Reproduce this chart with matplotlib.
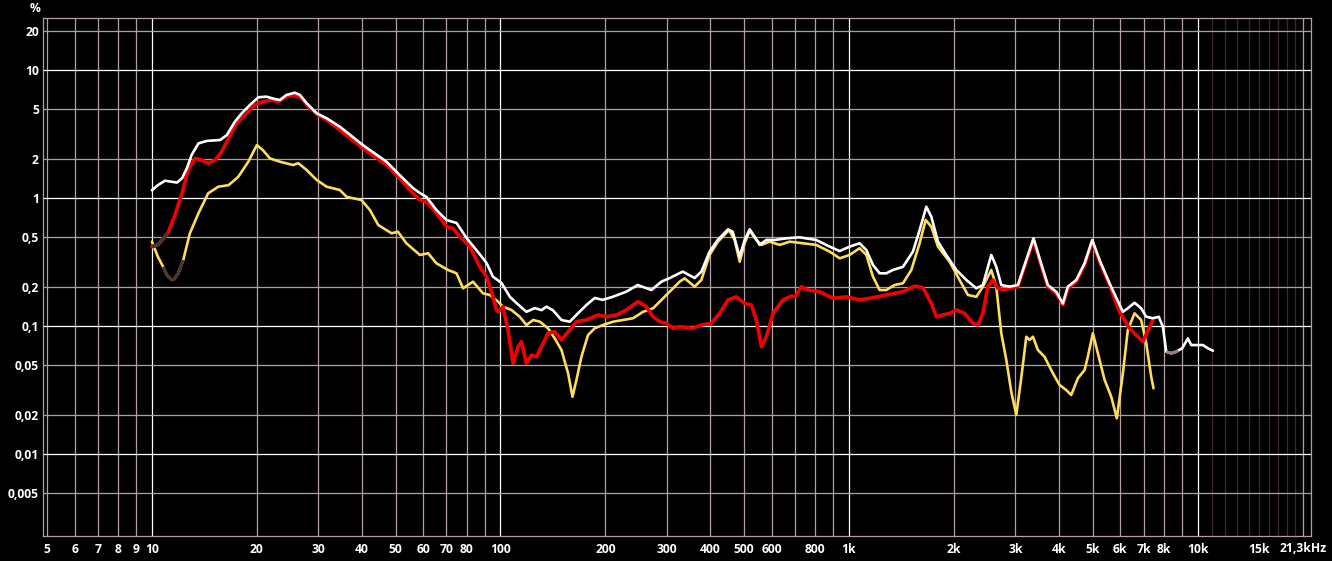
import numpy as np
import matplotlib
matplotlib.use("Agg")
import matplotlib.pyplot as plt
from matplotlib import font_manager

# ---------------- data (Hz, %) ----------------
white_f = [10, 10.4, 10.9, 11.4, 11.8, 12.2, 12.6, 13.0, 13.6, 14.35,
           15.7, 16.4, 17.3, 18.1, 19.1, 20.2, 21.3, 22.5, 23.3, 24.3,
           25.7, 26.6, 27.8, 29.7, 31.7, 34.6, 40.3, 47.1, 51.4, 56.0,
           58.7, 61.3, 65.5, 70.0, 74.8, 79.9, 85.3, 91.2, 95.1, 100.7,
           106.4, 111.2, 118.7, 125.4, 131.1, 135.5, 141.3, 149.6, 158.1, 167,
           176.5, 186.4, 196.4, 209.9, 229.7, 247.6, 271, 289.6, 305.9, 333.3,
           360.6, 377, 398, 420, 449.6, 463.6, 485.6, 501.7, 518.8, 536,
           554, 579, 612, 661, 721, 805, 880, 940, 1004, 1072,
           1121, 1171, 1224, 1279, 1336, 1428, 1525, 1594, 1666, 1722,
           1799, 1901, 2032, 2170, 2318, 2421, 2559, 2645, 2734, 2888,
           3051, 3225, 3383, 3560, 3718, 3930, 4106, 4244, 4486, 4740,
           4985, 5233, 5588, 6104, 6306, 6592, 6887, 7123, 7440, 7740,
           7948, 8128, 8395, 8681, 9034, 9376, 9585, 10014, 10350, 10700, 11060]
white_v = [1.15, 1.26, 1.365, 1.34, 1.32, 1.425, 1.71, 2.17, 2.67, 2.79,
           2.84, 3.1, 3.95, 4.59, 5.33, 6.12, 6.19, 5.94, 5.83, 6.38,
           6.65, 6.38, 5.5, 4.59, 4.2, 3.61, 2.59, 1.92, 1.51, 1.20,
           1.094, 1.02, 0.806, 0.673, 0.638, 0.487, 0.392, 0.311, 0.243, 0.217,
           0.169, 0.151, 0.129, 0.138, 0.133, 0.1415, 0.133, 0.1114, 0.108, 0.126,
           0.146, 0.1656, 0.160, 0.169, 0.1854, 0.209, 0.191, 0.222, 0.237, 0.266,
           0.237, 0.266, 0.381, 0.47, 0.569, 0.545, 0.348, 0.47, 0.569, 0.499,
           0.43, 0.47, 0.47, 0.484, 0.493, 0.47, 0.417, 0.385, 0.417, 0.443,
           0.392, 0.3, 0.258, 0.258, 0.274, 0.29, 0.381, 0.562, 0.855, 0.714,
           0.456, 0.359, 0.274, 0.229, 0.197, 0.209, 0.359, 0.29, 0.209, 0.203,
           0.209, 0.328, 0.484, 0.305, 0.209, 0.185, 0.150, 0.203, 0.229, 0.309,
           0.47, 0.328, 0.2157, 0.129, 0.1375, 0.152, 0.1375, 0.118, 0.115, 0.118,
           0.0988, 0.063, 0.0612, 0.063, 0.067, 0.080, 0.071, 0.071, 0.071, 0.067, 0.0641]

red_f = [10, 10.4, 11.0, 11.1, 11.6, 12.2, 12.7, 13.3, 13.9, 14.5,
         15.2, 15.85, 16.6, 17.5, 18.7, 19.7, 20.8, 22.0, 23.0, 24.3,
         25.7, 26.9, 28.1, 30.0, 31.7, 34.6, 40.4, 47.1, 51.4, 54.9,
         58.7, 61.3, 65.5, 70.0, 73.1, 76.4, 81.7, 87.2, 91.2, 95.2,
         97.4, 98.5, 101.7, 105.1, 108.7, 112.3, 114.8, 118.7, 122.7, 126.9,
         131.1, 136.9, 143.1, 149.6, 156.3, 165.2, 176.5, 190.5, 201.4, 215.1,
         229.7, 248, 262.2, 274, 286.4, 299.2, 312.6, 326.6, 356.7, 377,
         402.8, 425.5, 449.6, 475.3, 501.7, 524.8, 542, 560.5, 579, 605.2,
         646.5, 683.5, 700.8, 730, 762.7, 823.6, 899, 982.5, 1072, 1146,
         1279, 1428, 1543, 1629, 1722, 1780, 1859, 1943, 2032, 2145,
         2266, 2343, 2421, 2500, 2586, 2673, 2793,
         2888, 3051, 3225, 3383, 3560, 3718, 3930, 4106, 4244, 4486,
         4740, 4985, 5233, 5588, 5970, 6377, 6966, 7440]
red_v = [0.417, 0.43, 0.514, 0.53, 0.714, 1.088, 1.654, 2.04, 1.98, 1.87,
         1.98, 2.3, 2.93, 3.83, 4.59, 5.33, 5.65, 5.83, 5.65, 6.19,
         6.38, 6.01, 5.17, 4.45, 4.07, 3.4, 2.44, 1.81, 1.425, 1.155,
         0.965, 0.936, 0.76, 0.597, 0.58, 0.499, 0.417, 0.29, 0.243, 0.169,
         0.1334, 0.129, 0.1415, 0.093, 0.0511, 0.0689, 0.0754, 0.0511, 0.0593, 0.0575,
         0.0689, 0.0877, 0.0903, 0.0778, 0.0903, 0.108, 0.1114, 0.122, 0.118, 0.122,
         0.1334, 0.155, 0.1415, 0.118, 0.108, 0.105, 0.096, 0.0988, 0.096, 0.1018,
         0.105, 0.1256, 0.16, 0.169, 0.150, 0.146, 0.1114, 0.0689, 0.0825, 0.1256,
         0.16, 0.1716, 0.169, 0.203, 0.191, 0.1854, 0.1646, 0.169, 0.16, 0.1646,
         0.1747, 0.1854, 0.2054, 0.1993, 0.150, 0.118, 0.122, 0.1256, 0.1334, 0.1256,
         0.105, 0.1018, 0.1256, 0.203, 0.229, 0.197, 0.191,
         0.197, 0.203, 0.318, 0.47, 0.296, 0.203, 0.18, 0.146, 0.197, 0.222,
         0.30, 0.456, 0.318, 0.209, 0.129, 0.096, 0.0754, 0.1114]

yellow_f = [10, 10.4, 10.77, 11.04, 11.4, 11.6, 11.9, 12.3, 12.85, 13.6,
            14.5, 15.5, 16.6, 17.7, 18.9, 20.0, 20.8, 21.8, 23.3, 25.4,
            26.3, 27.8, 29.7, 31.7, 34.6, 36.2, 39.9, 42.2, 44.6, 48.7,
            50.8, 53.7, 58.7, 62.0, 65.5, 70.7, 74.8, 78.1, 83.4, 89.1,
            93.2, 98.4, 101.7, 107.5, 113.6, 118.7, 124.1, 129.7, 136.9, 143.1,
            149.6, 156.3, 160.9, 165.2, 170.7, 178.3, 186.4, 196.8, 210.4, 224.7,
            240, 256.4, 274, 292.6, 309.1, 326.6, 337.7, 360.6, 377, 398,
            420.7, 452.5, 469.8, 485.6, 501.7, 518.8, 542, 560.5, 592, 632.4,
            676, 737.7, 805, 880, 940, 1004, 1072, 1121, 1171, 1224,
            1279, 1351, 1428, 1509, 1594, 1659, 1722, 1799, 1943, 2075,
            2193, 2318, 2421, 2559, 2645, 2734, 2826, 2921, 3019, 3119,
            3225, 3296, 3370, 3481, 3638, 3845, 4018, 4198, 4340, 4533,
            4740, 4842, 5006, 5175, 5410, 5653, 5865, 6104, 6306, 6592,
            6887, 7123, 7360, 7474]
yellow_v = [0.456, 0.348, 0.29, 0.25, 0.229, 0.233, 0.258, 0.328, 0.53, 0.76,
            1.088, 1.225, 1.26, 1.467, 1.92, 2.59, 2.37, 2.04, 1.92, 1.81,
            1.87, 1.654, 1.383, 1.225, 1.155, 1.02, 0.965, 0.806, 0.615, 0.53,
            0.545, 0.443, 0.359, 0.37, 0.309, 0.274, 0.258, 0.197, 0.222, 0.18,
            0.1747, 0.155, 0.1415, 0.1334, 0.118, 0.1018, 0.1114, 0.108, 0.096, 0.080,
            0.065, 0.0427, 0.028, 0.0379, 0.0575, 0.085, 0.096, 0.1018, 0.108, 0.1114,
            0.115, 0.129, 0.1375, 0.1646, 0.191, 0.222, 0.2356, 0.203, 0.229, 0.359,
            0.456, 0.562, 0.47, 0.318, 0.443, 0.555, 0.47, 0.43, 0.456, 0.43,
            0.456, 0.443, 0.43, 0.381, 0.338, 0.359, 0.405, 0.359, 0.243, 0.191,
            0.191, 0.209, 0.2157, 0.274, 0.443, 0.673, 0.597, 0.417, 0.318, 0.229,
            0.1747, 0.169, 0.203, 0.274, 0.203, 0.0877, 0.0543, 0.0305, 0.0202, 0.0392,
            0.0825, 0.0778, 0.0825, 0.065, 0.0575, 0.0427, 0.0346, 0.0316, 0.0289, 0.039,
            0.0453, 0.0575, 0.0877, 0.0612, 0.0379, 0.028, 0.019, 0.0427, 0.093, 0.1256,
            0.1114, 0.0733, 0.0402, 0.0326]

# frequency ranges drawn in the dimmed colour
red_dim = (10, 11.1)
yellow_dim = (10.77, 12.3)
white_dim = (8128, 8800)

x_ticks = [5, 6, 7, 8, 9, 10, 20, 30, 40, 50, 60, 70, 80, 100, 200, 300, 400, 500,
           600, 800, 1000, 2000, 3000, 4000, 5000, 6000, 7000, 8000, 10000, 15000]
x_labels = ["5", "6", "7", "8", "9", "10", "20", "30", "40", "50", "60", "70", "80",
            "100", "200", "300", "400", "500", "600", "800", "1k", "2k", "3k", "4k",
            "5k", "6k", "7k", "8k", "10k", "15k"]
y_ticks = [20, 10, 5, 2, 1, 0.5, 0.2, 0.1, 0.05, 0.02, 0.01, 0.005]
y_labels = ["20", "10", "5", "2", "1", "0,5", "0,2", "0,1", "0,05", "0,02", "0,01", "0,005"]

# ---------------- font: a narrow-ish bold sans ----------------
FONT, FS = ["DejaVu Sans"], 8
for cand in ["Open Sans", "Lato", "Roboto", "Noto Sans"]:
    ok = any(f.name == cand and (f.weight in ("bold", 700, "700"))
             for f in font_manager.fontManager.ttflist)
    if ok:
        FONT, FS = [cand, "DejaVu Sans"], 8.7
        break
plt.rcParams["font.family"] = FONT

# ---------------- figure ----------------
W, H = 1332, 561
fig = plt.figure(figsize=(W / 100, H / 100), dpi=100, facecolor="black")
L, R, T, B = 43, 1311, 18, 536
ax = fig.add_axes([L / W, 1 - B / H, (R - L) / W, (B - T) / H])
ax.set_facecolor("black")
ax.set_xscale("log")
ax.set_yscale("log")
ax.set_xlim(4.87, 21150)
ax.set_ylim(10 ** (-338 / 128), 10 ** (180 / 128))

light = "#b2a0a0"
dark = "#3c2a2a"
decades_x = [10, 100, 1000, 10000]
vlines = []
for dec in [1, 10, 100, 1000]:
    for m in range(1, 10):
        v = dec * m
        if v >= 5:
            vlines.append(v)
vlines.append(10000)
for v in vlines:
    ax.axvline(v, color="white" if v in decades_x else light, lw=0.9, zorder=1)
for k in range(11, 20):
    ax.axvline(k * 1000, color=dark, lw=0.9, zorder=1)
ax.axvline(20000, color=light, lw=0.9, zorder=1)
for v in y_ticks:
    ax.axhline(v, color="white" if v in (10, 1, 0.1, 0.01) else light, lw=0.9, zorder=1)

for s in ax.spines.values():
    s.set_color(light)
    s.set_linewidth(0.9)


def draw(fs, vs, color, lw, z, dim=None, dimcolor=None):
    fs = np.asarray(fs, float)
    vs = np.asarray(vs, float)
    ax.plot(fs, vs, color=color, lw=lw, zorder=z, solid_capstyle="round",
            solid_joinstyle="round")
    if dim is not None:
        lf, lv = np.log10(fs), np.log10(vs)
        a, b = np.log10(dim[0]), np.log10(dim[1])
        inside = (lf > a) & (lf < b)
        sf = np.concatenate([[a], lf[inside], [b]])
        sv = np.concatenate([[np.interp(a, lf, lv)], lv[inside], [np.interp(b, lf, lv)]])
        ax.plot(10 ** sf, 10 ** sv, color=dimcolor, lw=lw + 0.3, zorder=z + 0.1,
                solid_capstyle="butt")


draw(yellow_f, yellow_v, "#ffdc5c", 1.9, 3, yellow_dim, "#4a3530")
draw(red_f, red_v, "#f00000", 2.6, 4, red_dim, "#4a3530")
draw(white_f, white_v, "#ffffff", 1.9, 5, white_dim, "#9a7c7c")

ax.set_xticks(x_ticks)
ax.set_xticklabels(x_labels)
ax.set_yticks(y_ticks)
ax.set_yticklabels(y_labels)
ax.minorticks_off()
ax.tick_params(axis="both", length=0, colors="white", labelsize=FS)
ax.tick_params(axis="x", pad=5)
ax.tick_params(axis="y", pad=3)
for lab in ax.get_xticklabels() + ax.get_yticklabels():
    lab.set_fontweight("bold")

fig.text(1327 / W, 1 - 548 / H, "21,3kHz", color="white", fontsize=FS,
         fontweight="bold", ha="right", va="center")
fig.text(35 / W, 1 - 8 / H, "%", color="white", fontsize=FS, fontweight="bold",
         ha="center", va="center")

fig.savefig("out.png", dpi=100, facecolor="black")
